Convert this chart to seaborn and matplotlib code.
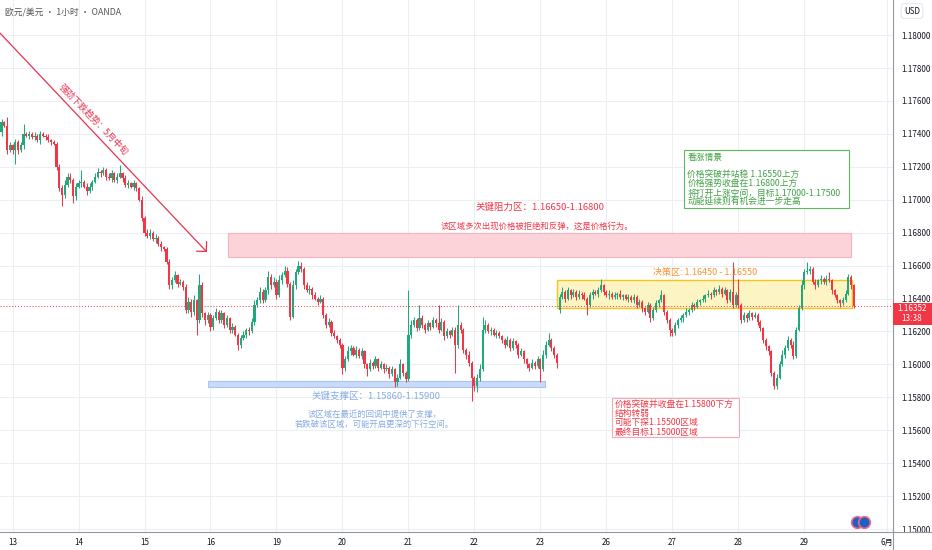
import matplotlib
matplotlib.use("Agg")
import matplotlib.pyplot as plt
import seaborn as sns
import numpy as np
import pandas as pd
from matplotlib.patches import Rectangle
from matplotlib.lines import Line2D

# EUR/USD, 1h bars (OANDA) - closes, one per bar
closes = [
    1.1747, 1.1745, 1.1730, 1.1733, 1.1730, 1.1735, 1.1730, 1.1733, 1.1740, 1.1739,
    1.1740, 1.1738, 1.1739, 1.1736, 1.1740, 1.1739, 1.1738, 1.1736, 1.1735, 1.1734,
    1.1720, 1.1707, 1.1703, 1.1709, 1.1714, 1.1712, 1.1702, 1.1708, 1.1710, 1.1711,
    1.1708, 1.1705, 1.1708, 1.1711, 1.1714, 1.1717, 1.1716, 1.1718, 1.1714, 1.1713,
    1.1716, 1.1712, 1.1714, 1.1716, 1.1713, 1.1709, 1.1710, 1.1708, 1.1710, 1.1707,
    1.1700, 1.1689, 1.1680, 1.1678, 1.1680, 1.1676, 1.1677, 1.1673, 1.1671, 1.1670,
    1.1662, 1.1648, 1.1651, 1.1654, 1.1649, 1.1650, 1.1647, 1.1633, 1.1638, 1.1632,
    1.1639, 1.1627, 1.1648, 1.1631, 1.1627, 1.1630, 1.1623, 1.1628, 1.1632, 1.1627,
    1.1631, 1.1624, 1.1628, 1.1621, 1.1623, 1.1618, 1.1612, 1.1616, 1.1618, 1.1621,
    1.1620, 1.1626, 1.1636, 1.1639, 1.1644, 1.1639, 1.1645, 1.1653, 1.1648, 1.1650,
    1.1642, 1.1651, 1.1654, 1.1657, 1.1649, 1.1629, 1.1648, 1.1656, 1.1660, 1.1658,
    1.1648, 1.1645, 1.1646, 1.1642, 1.1640, 1.1638, 1.1640, 1.1630, 1.1624, 1.1626,
    1.1619, 1.1617, 1.1615, 1.1612, 1.1598, 1.1603, 1.1608, 1.1610, 1.1606, 1.1609,
    1.1605, 1.1608, 1.1600, 1.1597, 1.1601, 1.1599, 1.1603, 1.1598, 1.1600, 1.1597,
    1.1598, 1.1594, 1.1597, 1.1589, 1.1592, 1.1600, 1.1595, 1.1591, 1.1618, 1.1624,
    1.1627, 1.1622, 1.1628, 1.1624, 1.1621, 1.1625, 1.1623, 1.1627, 1.1625, 1.1621,
    1.1626, 1.1617, 1.1620, 1.1618, 1.1621, 1.1612, 1.1624, 1.1621, 1.1609, 1.1606,
    1.1601, 1.1592, 1.1587, 1.1592, 1.1597, 1.1621, 1.1624, 1.1620, 1.1621, 1.1618,
    1.1619, 1.1617, 1.1615, 1.1612, 1.1615, 1.1610, 1.1614, 1.1612, 1.1606, 1.1608,
    1.1603, 1.1600, 1.1598, 1.1601, 1.1599, 1.1603, 1.1597, 1.1606, 1.1612, 1.1615,
    1.1610, 1.1606, 1.1601, 1.1641, 1.1644, 1.1640, 1.1645, 1.1642, 1.1644, 1.1641,
    1.1643, 1.1642, 1.1640, 1.1636, 1.1642, 1.1644, 1.1643, 1.1645, 1.1648, 1.1644,
    1.1642, 1.1643, 1.1641, 1.1642, 1.1643, 1.1641, 1.1642, 1.1640, 1.1641, 1.1639,
    1.1641, 1.1636, 1.1638, 1.1634, 1.1632, 1.1636, 1.1628, 1.1633, 1.1637, 1.1639,
    1.1642, 1.1632, 1.1627, 1.1621, 1.1619, 1.1624, 1.1627, 1.1628, 1.1630, 1.1632,
    1.1633, 1.1636, 1.1635, 1.1638, 1.1639, 1.1640, 1.1642, 1.1643, 1.1642, 1.1645,
    1.1644, 1.1646, 1.1643, 1.1645, 1.1639, 1.1644, 1.1636, 1.1642, 1.1636, 1.1627,
    1.1630, 1.1628, 1.1631, 1.1629, 1.1630, 1.1626, 1.1622, 1.1615, 1.1611, 1.1608,
    1.1595, 1.1587, 1.1592, 1.1600, 1.1606, 1.1610, 1.1615, 1.1612, 1.1605, 1.1621,
    1.1634, 1.1648, 1.1656, 1.1657, 1.1658, 1.1650, 1.1648, 1.1651, 1.1652, 1.1650,
    1.1652, 1.1651, 1.1645, 1.1642, 1.1639, 1.1637, 1.1639, 1.1643, 1.1653, 1.1648,
    1.16352,
]
first_open = 1.1741
gap_opens = {203: 1.1633}  # gap at the weekly open

# wick length beyond the body, in pips
wick_up = [
    2, 1, 5, 2, 1, 2, 1, 2, 6, 1, 2, 1, 2, 1, 2, 1, 1, 2, 1, 1,
    1, 2, 2, 3, 2, 2, 1, 2, 2, 7, 1, 2, 2, 1, 2, 2, 1, 2, 1, 2,
    2, 1, 2, 5, 1, 2, 2, 1, 2, 1, 1, 2, 1, 2, 2, 1, 2, 1, 2, 1,
    1, 2, 2, 3, 1, 2, 1, 2, 3, 2, 3, 1, 7, 2, 1, 2, 1, 2, 2, 1,
    2, 1, 2, 1, 2, 1, 1, 2, 2, 1, 2, 2, 3, 2, 3, 2, 2, 4, 2, 3,
    2, 3, 2, 3, 2, 1, 3, 2, 3, 2, 1, 2, 2, 1, 2, 1, 2, 1, 1, 2,
    1, 2, 1, 1, 1, 2, 3, 2, 1, 2, 1, 2, 1, 1, 2, 1, 2, 1, 2, 1,
    2, 1, 2, 1, 2, 3, 1, 1, 27, 3, 2, 1, 8, 2, 1, 2, 1, 2, 1, 11,
    2, 1, 2, 1, 2, 2, 12, 2, 1, 1, 2, 1, 1, 2, 3, 8, 3, 1, 2, 1,
    2, 1, 1, 1, 2, 1, 2, 1, 1, 2, 1, 1, 1, 2, 1, 2, 1, 3, 2, 4,
    1, 1, 1, 2, 3, 1, 2, 1, 2, 1, 2, 1, 2, 1, 2, 2, 1, 2, 4, 1,
    1, 2, 1, 2, 1, 2, 1, 1, 2, 1, 2, 1, 2, 1, 1, 2, 1, 2, 2, 1,
    3, 1, 1, 1, 1, 2, 1, 2, 1, 2, 1, 2, 1, 2, 1, 2, 1, 2, 1, 2,
    1, 2, 1, 2, 1, 2, 18, 2, 10, 1, 2, 1, 2, 1, 2, 1, 1, 1, 1, 1,
    1, 1, 2, 2, 3, 2, 2, 1, 2, 2, 2, 3, 2, 5, 2, 1, 2, 1, 2, 1,
    2, 4, 1, 1, 1, 1, 2, 2, 2, 1, 1,
]
wick_dn = [
    2, 1, 2, 1, 2, 8, 2, 1, 2, 1, 2, 1, 2, 1, 2, 1, 2, 1, 2, 1,
    2, 2, 7, 2, 1, 2, 4, 2, 1, 2, 1, 2, 1, 2, 1, 1, 2, 1, 2, 1,
    2, 1, 2, 1, 2, 1, 2, 1, 2, 2, 1, 2, 2, 1, 2, 1, 2, 1, 2, 1,
    1, 2, 2, 1, 2, 1, 2, 2, 2, 3, 2, 9, 2, 2, 3, 2, 3, 2, 1, 2,
    2, 2, 1, 2, 2, 1, 3, 2, 1, 2, 2, 1, 2, 1, 2, 2, 1, 2, 2, 1,
    2, 1, 2, 1, 2, 2, 1, 2, 1, 2, 2, 1, 2, 2, 1, 2, 1, 2, 2, 1,
    2, 1, 2, 2, 4, 2, 1, 2, 1, 2, 1, 2, 2, 4, 1, 2, 1, 2, 1, 2,
    1, 2, 1, 3, 2, 1, 2, 2, 1, 2, 1, 2, 1, 2, 2, 1, 2, 1, 2, 2,
    1, 2, 1, 2, 1, 17, 2, 2, 2, 3, 2, 14, 3, 4, 2, 1, 2, 1, 2, 1,
    2, 1, 2, 2, 1, 2, 1, 2, 2, 1, 2, 2, 2, 1, 2, 1, 8, 1, 2, 1,
    2, 2, 3, 2, 1, 2, 1, 2, 1, 2, 1, 2, 1, 6, 1, 2, 1, 2, 1, 2,
    1, 2, 1, 1, 2, 1, 2, 1, 2, 1, 2, 2, 1, 2, 2, 1, 2, 1, 1, 2,
    1, 2, 2, 4, 2, 1, 2, 1, 2, 1, 2, 1, 2, 1, 2, 1, 2, 1, 2, 1,
    2, 1, 2, 1, 2, 1, 2, 1, 2, 2, 1, 2, 1, 2, 1, 2, 2, 2, 2, 2,
    2, 2, 2, 1, 1, 2, 1, 2, 2, 1, 1, 1, 2, 1, 2, 1, 2, 1, 2, 1,
    2, 1, 2, 1, 2, 2, 1, 1, 1, 2, 1,
]

day_labels = ["13", "14", "15", "16", "19", "20", "21", "22", "23", "26", "27", "28", "29", "6月"]
day_bars = [4, 28, 52, 76, 100, 124, 148, 172, 196, 220, 244, 268, 292, 322]
price_ticks = [1.150, 1.152, 1.154, 1.156, 1.158, 1.160, 1.162, 1.164,
               1.166, 1.168, 1.170, 1.172, 1.174, 1.176, 1.178, 1.180]
last_price = 1.16352
countdown = "13:38"

resist_zone = (1.1665, 1.1680)
decision_zone = (1.1634, 1.1651)
support_zone = (1.1586, 1.1590)

bull_title = "看涨情景"
bull_lines = ["价格突破并站稳 1.16550上方", "价格强势收盘在1.16800上方",
              "将打开上涨空间，目标1.17000-1.17500", "动能延续则有机会进一步走高"]
bear_lines = ["价格突破并收盘在1.15800下方", "结构转弱", "可能下探1.15500区域", "最终目标1.15000区域"]

GREEN = "#1fa97c"
RED = "#f23645"

sns.set_theme(style="white")
plt.rcParams["font.family"] = ["Noto Sans CJK SC", "DejaVu Sans"]

df = pd.DataFrame({"close": closes})
df["open"] = [first_open] + closes[:-1]
for i, v in gap_opens.items():
    df.loc[i, "open"] = v
top = df[["open", "close"]].max(axis=1)
bot = df[["open", "close"]].min(axis=1)
df["high"] = top + np.array(wick_up) / 1e4
df["low"] = bot - np.array(wick_dn) / 1e4
colors = np.where(df["close"] >= df["open"], GREEN, RED)

fig = plt.figure(figsize=(9.32, 5.5), dpi=100)
ax = fig.add_axes([0, 18 / 550, 893 / 932, 532 / 550])

# zones behind the candles
ax.add_patch(Rectangle((82.4, resist_zone[0]), 226.5, resist_zone[1] - resist_zone[0],
                       facecolor="#fbd3d8", edgecolor="#f6b3bc", lw=0.8, zorder=1))
ax.add_patch(Rectangle((202.0, decision_zone[0]), 107.3, decision_zone[1] - decision_zone[0],
                       facecolor="#fdf4c4", edgecolor="#f5c518", lw=1.0, zorder=1))
ax.add_patch(Rectangle((75.1, support_zone[0]), 122.5, support_zone[1] - support_zone[0],
                       facecolor="#c9dbf8", edgecolor="#a9c4f1", lw=0.8, zorder=1))

ax.vlines(df.index, df["low"], df["high"], colors=colors, lw=0.75, zorder=3)
ax.bar(df.index, (df["close"] - df["open"]).abs().clip(lower=0.00004), bottom=bot,
       width=0.74, color=colors, lw=0, zorder=4)

ax.axhline(last_price, color=RED, lw=0.7, ls=(0, (1, 2)), zorder=5)

ax.set_xlim(-0.55, 324.2)
ax.set_ylim(1.14982, 1.18213)
ax.set_xticks(day_bars, day_labels)
ax.set_yticks(price_ticks, [f"{p:.5f}" for p in price_ticks])
ax.yaxis.tick_right()
ax.tick_params(axis="y", length=0, pad=6, labelsize=5.8, colors="#131722")
ax.tick_params(axis="x", length=0, pad=4, labelsize=5.8, colors="#131722")
ax.grid(True, color="#eceef3", lw=0.8, zorder=0)
for s in ["top", "left"]:
    ax.spines[s].set_visible(False)
for s in ["right", "bottom"]:
    ax.spines[s].set_color("#9598a1")
    ax.spines[s].set_linewidth(0.8)
fig.add_artist(Line2D([893 / 932, 893 / 932], [0, 18 / 550], color="#9598a1", lw=0.8))
fig.add_artist(Line2D([893 / 932, 1], [18 / 550, 18 / 550], color="#9598a1", lw=0.8))

# trend arrow
ax.annotate("", xy=(74.7, 1.16682), xytext=(-0.55, 1.18012),
            arrowprops=dict(arrowstyle="->,head_length=0.5,head_width=0.5", color="#e8334f",
                            lw=0.9, mutation_scale=10, shrinkA=0, shrinkB=0), zorder=6)
ax.text(33.3, 1.17484, "强劲下跌趋势：5月中旬", color="#e8334f", fontsize=6.5,
        rotation=-46, rotation_mode="anchor", ha="center", va="center", zorder=6)

# zone captions
ax.text(195.8, 1.16955, "关键阻力区：1.16650-1.16800", color=RED, fontsize=6.8,
        ha="center", va="center")
ax.text(194.7, 1.16840, "该区域多次出现价格被拒绝和反弹，这是价格行为。", color=RED, fontsize=6,
        ha="center", va="center")
ax.text(255.8, 1.16555, "决策区: 1.16450 - 1.16550", color="#f59331", fontsize=6.5,
        ha="center", va="center", zorder=6)
ax.text(136.2, 1.15808, "关键支撑区：1.15860-1.15900", color="#86abe6", fontsize=6.8,
        ha="center", va="center")
ax.text(135.5, 1.15698, "该区域在最近的回调中提供了支撑，", color="#86abe6", fontsize=6,
        ha="center", va="center")
ax.text(135.5, 1.15638, "若跌破该区域，可能开启更深的下行空间。", color="#86abe6", fontsize=6,
        ha="center", va="center")

# scenario boxes (one text per line, TradingView-style text boxes)
ax.add_patch(Rectangle((248.2, 1.16949), 60.0, 1.17302 - 1.16949,
                       facecolor="white", edgecolor="#5cb85c", lw=0.8, zorder=6))
ax.text(249.4, 1.17259, bull_title, color="#43a047", fontsize=6.3, ha="left", va="center", zorder=7)
for line, p in zip(bull_lines, [1.17156, 1.17098, 1.17041, 1.16986]):
    ax.text(249.4, p, line, color="#43a047", fontsize=6.3, ha="left", va="center", zorder=7)
ax.add_patch(Rectangle((222.0, 1.15559), 46.2, 1.15796 - 1.15559,
                       facecolor="white", edgecolor="#f6a9b3", lw=0.8, zorder=6))
for line, p in zip(bear_lines, [1.15759, 1.15704, 1.15644, 1.15589]):
    ax.text(223.1, p, line, color=RED, fontsize=6.3, ha="left", va="center", zorder=7)

# header and price scale extras
fig.text(5 / 932, 1 - 12 / 550, "欧元/美元 • 1小时 • OANDA", fontsize=6.3, color="#555555",
         va="center", ha="left")
fig.text(912 / 932, 1 - 11 / 550, "USD", fontsize=5.8, color="#131722", ha="center", va="center",
         bbox=dict(boxstyle="round,pad=0.35", fc="white", ec="#e0e3eb", lw=0.6))
fig.add_artist(Rectangle((893 / 932, (550 - 325) / 550), 39 / 932, 22 / 550,
                         transform=fig.transFigure, facecolor=RED, edgecolor="none"))
fig.text(912 / 932, 1 - 308.5 / 550, f"{last_price:.5f}", fontsize=5.8, color="white",
         ha="center", va="center")
fig.text(912 / 932, 1 - 318.5 / 550, countdown, fontsize=5.8, color="white",
         ha="center", va="center")
ax.scatter([857 / 893, 864 / 893], [10 / 532, 10 / 532], transform=ax.transAxes, s=70,
           color="#1f5fbf", edgecolors="#e86a8a", linewidths=1.2, zorder=8, clip_on=False)

fig.savefig("out.png", dpi=100)
